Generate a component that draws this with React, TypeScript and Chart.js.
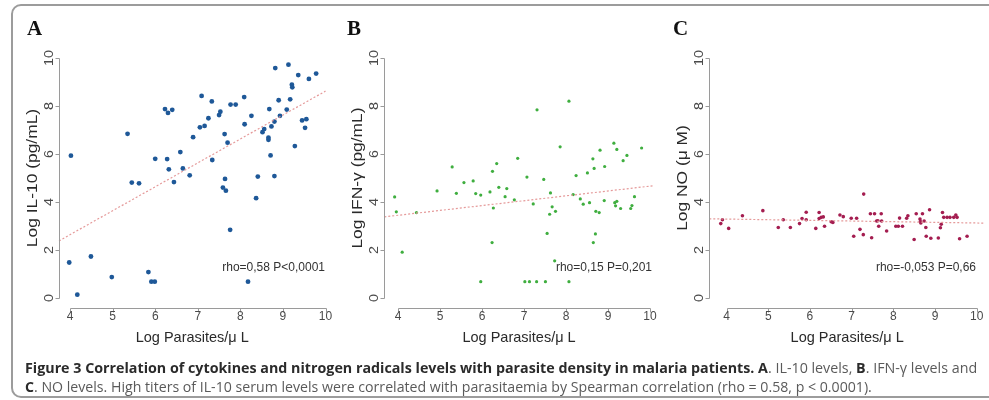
import React, { useEffect, useLayoutEffect, useRef } from "react";
import { Chart, registerables } from "chart.js";

Chart.register(...registerables);

// ---------------- data ----------------
const xTicks = [4, 5, 6, 7, 8, 9, 10];
const yTicks = [0, 2, 4, 6, 8, 10];

const parasitesA = [3.98, 4.02, 4.17, 4.49, 4.98, 5.35, 5.45, 5.62, 5.84, 5.91, 5.99, 6.0, 6.23, 6.28, 6.3, 6.32, 6.4, 6.44, 6.59, 6.65, 6.81, 6.89, 7.05, 7.09, 7.16, 7.25, 7.33, 7.34, 7.5, 7.53, 7.59, 7.63, 7.64, 7.66, 7.7, 7.76, 7.77, 7.89, 8.09, 8.1, 8.18, 8.26, 8.37, 8.41, 8.52, 8.56, 8.66, 8.66, 8.68, 8.71, 8.73, 8.8, 8.8, 8.82, 8.9, 8.93, 9.09, 9.13, 9.17, 9.21, 9.22, 9.28, 9.36, 9.45, 9.52, 9.55, 9.61, 9.78];
const il10 = [1.48, 5.93, 0.14, 1.73, 0.87, 6.84, 4.81, 4.78, 1.08, 0.68, 0.68, 5.8, 7.87, 5.79, 7.71, 5.36, 7.84, 4.83, 6.08, 5.4, 5.11, 6.7, 7.11, 8.42, 7.17, 7.49, 8.19, 5.75, 7.62, 7.76, 4.6, 6.83, 4.96, 4.47, 6.47, 2.84, 8.06, 8.06, 8.37, 7.24, 0.68, 7.59, 4.16, 5.06, 6.91, 7.04, 6.68, 6.59, 7.87, 5.94, 7.15, 5.08, 7.35, 9.58, 8.24, 7.59, 7.85, 9.72, 8.28, 8.89, 8.78, 6.33, 9.29, 7.4, 7.09, 7.45, 9.13, 9.35];

const parasitesB = [3.92, 3.96, 4.1, 4.44, 4.93, 5.29, 5.39, 5.57, 5.79, 5.85, 5.97, 5.97, 6.19, 6.25, 6.24, 6.27, 6.35, 6.4, 6.55, 6.59, 6.77, 6.85, 7.07, 7.02, 7.13, 7.22, 7.31, 7.3, 7.47, 7.51, 7.55, 7.63, 7.61, 7.67, 7.75, 7.73, 7.86, 8.07, 8.07, 8.17, 8.24, 8.34, 8.41, 8.51, 8.56, 8.64, 8.67, 8.65, 8.7, 8.71, 8.79, 8.81, 8.91, 8.92, 9.14, 9.16, 9.21, 9.21, 9.18, 9.3, 9.36, 9.45, 9.54, 9.57, 9.63, 9.8];
const ifng = [4.21, 3.59, 1.91, 3.56, 4.46, 5.46, 4.36, 4.81, 4.88, 4.35, 4.29, 0.68, 4.42, 5.28, 2.31, 3.75, 5.6, 4.61, 4.22, 4.56, 4.09, 5.82, 5.04, 0.68, 0.68, 3.92, 7.84, 0.68, 4.94, 0.68, 2.69, 4.38, 3.49, 3.8, 3.61, 1.55, 6.3, 8.2, 0.68, 4.31, 5.1, 4.13, 3.91, 5.21, 3.97, 5.8, 5.4, 2.31, 2.67, 3.61, 3.56, 6.16, 4.06, 5.48, 6.45, 3.97, 4.03, 6.19, 3.84, 3.73, 5.72, 5.94, 3.73, 3.85, 4.22, 6.25];

const parasitesC = [3.86, 3.9, 4.05, 4.38, 4.87, 5.24, 5.36, 5.53, 5.75, 5.81, 5.91, 5.91, 6.14, 6.22, 6.22, 6.27, 6.32, 6.35, 6.51, 6.55, 6.72, 6.8, 6.99, 7.05, 7.12, 7.2, 7.29, 7.28, 7.45, 7.48, 7.55, 7.6, 7.63, 7.65, 7.71, 7.72, 7.84, 8.06, 8.12, 8.15, 8.22, 8.32, 8.35, 8.5, 8.55, 8.64, 8.65, 8.66, 8.7, 8.74, 8.78, 8.79, 8.87, 8.9, 9.08, 9.13, 9.15, 9.18, 9.21, 9.29, 9.36, 9.45, 9.5, 9.53, 9.59, 9.77];
const nitricOxide = [3.1, 3.26, 2.9, 3.43, 3.64, 2.94, 3.26, 2.94, 3.1, 3.31, 3.57, 3.26, 2.9, 3.56, 3.31, 3.36, 3.38, 2.99, 3.18, 3.15, 3.46, 3.39, 3.32, 2.57, 3.32, 2.86, 4.33, 2.64, 3.51, 2.51, 3.51, 3.21, 3.22, 2.99, 3.51, 3.21, 2.79, 2.99, 2.99, 3.33, 2.99, 3.32, 3.43, 2.44, 3.51, 3.29, 3.19, 3.13, 3.51, 3.21, 2.94, 2.57, 3.68, 2.49, 2.5, 2.93, 3.07, 3.56, 3.36, 3.36, 3.36, 3.36, 3.46, 3.36, 2.47, 2.57];

// fitted (regression) lines, end points
const fitAx = [3.74, 10.0];
const fitAy = [2.38, 8.62];
const fitBx = [3.674, 10.09];
const fitBy = [3.38, 4.68];
const fitCx = [3.585, 10.2];
const fitCy = [3.3, 3.12];

const panelLetters = ["A", "B", "C"];
const yTitles = ["Log IL-10 (pg/mL)", "Log IFN-\u03b3 (pg/mL)", "Log NO (\u03bc M)"];
const xTitle = "Log Parasites/\u03bc L";
const statLabels = ["rho=0,58 P<0,0001", "rho=0,15 P=0,201", "rho=-0,053 P=0,66"];

// ---------------- layout / style ----------------
const W = 989;
const H = 400;
const TOP = 48.4;
const BOTTOM = 307.6;
const Y_MIN = -0.4;
const Y_MAX = 10.4;
const AXIS_COLOR = "#9a9a9a";
const TICK_COLOR = "#4a4a4a";
const TITLE_COLOR = "#2a2a2a";
const FIT_COLOR = "#e59a9a";
const SANS = "'Liberation Sans', Arial, Helvetica, sans-serif";
const SY = 1.2;

const PANELS = [
  { xs: parasitesA, ys: il10, fx: fitAx, fy: fitAy, left: 59, right: 325.5, xMin: 3.74, xMax: 10.0, color: "#1e5898", radius: 2.4, letterX: 27, statRight: 325 },
  { xs: parasitesB, ys: ifng, fx: fitBx, fy: fitBy, left: 384.3, right: 653.8, xMin: 3.674, xMax: 10.09, color: "#3fae3f", radius: 1.6, letterX: 347, statRight: 652 },
  { xs: parasitesC, ys: nitricOxide, fx: fitCx, fy: fitCy, left: 709.3, right: 986.9, xMin: 3.585, xMax: 10.2, color: "#a41d50", radius: 1.8, letterX: 673, statRight: 976 },
];

function drawText(ctx: CanvasRenderingContext2D, s: string, x: number, y: number, font: string, color: string, align: CanvasTextAlign, rotate: boolean, sy: number) {
  ctx.save();
  ctx.translate(x, y);
  ctx.scale(1, sy);
  if (rotate) ctx.rotate(-Math.PI / 2);
  ctx.font = font;
  ctx.fillStyle = color;
  ctx.textAlign = align;
  ctx.textBaseline = "middle";
  ctx.fillText(s, 0, 0);
  ctx.restore();
}

const decorPlugin = {
  id: "panelDecor",
  afterDraw(chart: any, _args: any, opts: any) {
    const { ctx, chartArea, scales } = chart;
    const xs = scales.x;
    const ys = scales.y;
    ctx.save();
    ctx.strokeStyle = AXIS_COLOR;
    ctx.lineWidth = 1;
    ctx.beginPath();
    const ax = Math.round(chartArea.left) + 0.5;
    ctx.moveTo(ax, Math.round(ys.getPixelForValue(yTicks[0])) + 0.5);
    ctx.lineTo(ax, Math.round(ys.getPixelForValue(yTicks[yTicks.length - 1])) + 0.5);
    for (const t of yTicks) {
      const py = Math.round(ys.getPixelForValue(t)) + 0.5;
      ctx.moveTo(ax, py);
      ctx.lineTo(ax - 4, py);
    }
    const ay = Math.round(chartArea.bottom) + 0.5;
    ctx.moveTo(Math.round(xs.getPixelForValue(xTicks[0])) + 0.5, ay);
    ctx.lineTo(Math.round(xs.getPixelForValue(xTicks[xTicks.length - 1])) + 0.5, ay);
    for (const t of xTicks) {
      const px = Math.round(xs.getPixelForValue(t)) + 0.5;
      ctx.moveTo(px, ay);
      ctx.lineTo(px, ay + 4);
    }
    ctx.stroke();
    ctx.restore();

    for (const t of yTicks) {
      drawText(ctx, String(t), chartArea.left - 9.5, ys.getPixelForValue(t), `12px ${SANS}`, TICK_COLOR, "center", true, SY);
    }
    for (const t of xTicks) {
      drawText(ctx, String(t), xs.getPixelForValue(t), chartArea.bottom + 9.5, `12px ${SANS}`, TICK_COLOR, "center", false, 1);
    }
    const cx = (chartArea.left + chartArea.right) / 2;
    const cy = (chartArea.top + chartArea.bottom) / 2;
    drawText(ctx, xTitle, cx, 338, `14.5px ${SANS}`, TITLE_COLOR, "center", false, 1);
    drawText(ctx, opts.yTitle, chartArea.left - 26, cy, `14.5px ${SANS}`, TITLE_COLOR, "center", true, SY);
    drawText(ctx, opts.stat, opts.statRight, 268, `12px ${SANS}`, "#333333", "right", false, 1);

    ctx.save();
    ctx.font = "bold 21px 'Liberation Serif', 'Times New Roman', serif";
    ctx.fillStyle = "#111111";
    ctx.textAlign = "left";
    ctx.textBaseline = "alphabetic";
    ctx.fillText(opts.letter, opts.letterX, 35);
    ctx.restore();
  },
};

function buildChart(canvas: HTMLCanvasElement, i: number) {
  const p = PANELS[i];
  const points = p.xs.map((x, k) => ({ x, y: p.ys[k] }));
  const fit = p.fx.map((x, k) => ({ x, y: p.fy[k] }));
  return new Chart(canvas, {
    type: "scatter",
    data: {
      datasets: [
        {
          type: "line" as any,
          data: fit,
          borderColor: FIT_COLOR,
          borderWidth: 1.2,
          borderDash: [2, 2],
          pointRadius: 0,
          fill: false,
          clip: false as any,
        },
        {
          data: points,
          backgroundColor: p.color,
          borderColor: p.color,
          borderWidth: 0,
          pointRadius: p.radius,
          clip: false as any,
        },
      ],
    },
    options: {
      animation: false,
      responsive: false,
      devicePixelRatio: 1,
      events: [],
      layout: { padding: { left: p.left, right: W - p.right, top: TOP, bottom: H - BOTTOM } },
      scales: {
        x: { type: "linear", min: p.xMin, max: p.xMax, display: false },
        y: { type: "linear", min: Y_MIN, max: Y_MAX, display: false },
      },
      plugins: {
        legend: { display: false },
        tooltip: { enabled: false },
        panelDecor: { letter: panelLetters[i], letterX: p.letterX, yTitle: yTitles[i], stat: statLabels[i], statRight: p.statRight },
      } as any,
    },
    plugins: [decorPlugin],
  });
}

const CAP_FONT = "'Open Sans', 'Noto Sans', sans-serif";

export default function App() {
  const c0 = useRef<HTMLCanvasElement>(null);
  const c1 = useRef<HTMLCanvasElement>(null);
  const c2 = useRef<HTMLCanvasElement>(null);
  const l1 = useRef<HTMLDivElement>(null);
  const l2 = useRef<HTMLDivElement>(null);

  useEffect(() => {
    const charts = [c0, c1, c2].map((r, i) => buildChart(r.current as HTMLCanvasElement, i));
    return () => charts.forEach((c) => c.destroy());
  }, []);

  useLayoutEffect(() => {
    const fit = () => {
      const pairs: [HTMLDivElement | null, number][] = [[l1.current, 952], [l2.current, 847]];
      for (const [el, target] of pairs) {
        if (!el) continue;
        el.style.transform = "none";
        const w = el.scrollWidth;
        if (w > 0) el.style.transform = `scaleX(${target / w})`;
      }
    };
    fit();
    (document as any).fonts?.ready?.then(fit);
  }, []);

  const bold: React.CSSProperties = { fontWeight: 700, color: "#2b2b2b" };
  const lineStyle: React.CSSProperties = {
    position: "absolute",
    left: 25,
    whiteSpace: "nowrap",
    transformOrigin: "0 0",
    fontFamily: CAP_FONT,
    fontSize: 14.5,
    lineHeight: "18px",
    color: "#5a5a5a",
  };

  return (
    <div style={{ position: "absolute", left: 0, top: 0, width: W, height: H, overflow: "hidden", background: "#ffffff" }}>
      <div
        style={{
          position: "absolute",
          left: 11,
          top: 4,
          width: 1100,
          height: 394,
          border: "2px solid #9c9c9c",
          borderRadius: 10,
          boxSizing: "border-box",
        }}
      />
      <canvas ref={c0} width={W} height={H} style={{ position: "absolute", left: 0, top: 0 }} />
      <canvas ref={c1} width={W} height={H} style={{ position: "absolute", left: 0, top: 0 }} />
      <canvas ref={c2} width={W} height={H} style={{ position: "absolute", left: 0, top: 0 }} />
      <div ref={l1} style={{ ...lineStyle, top: 359 }}>
        <span style={bold}>Figure 3 Correlation of cytokines and nitrogen radicals levels with parasite density in malaria patients.</span>{" "}
        <span style={bold}>A</span>. IL-10 levels, <span style={bold}>B</span>. IFN-&gamma; levels and
      </div>
      <div ref={l2} style={{ ...lineStyle, top: 378 }}>
        <span style={bold}>C</span>. NO levels. High titers of IL-10 serum levels were correlated with parasitaemia by Spearman correlation (rho&nbsp;=&nbsp;0.58, p&nbsp;&lt;&nbsp;0.0001).
      </div>
    </div>
  );
}
